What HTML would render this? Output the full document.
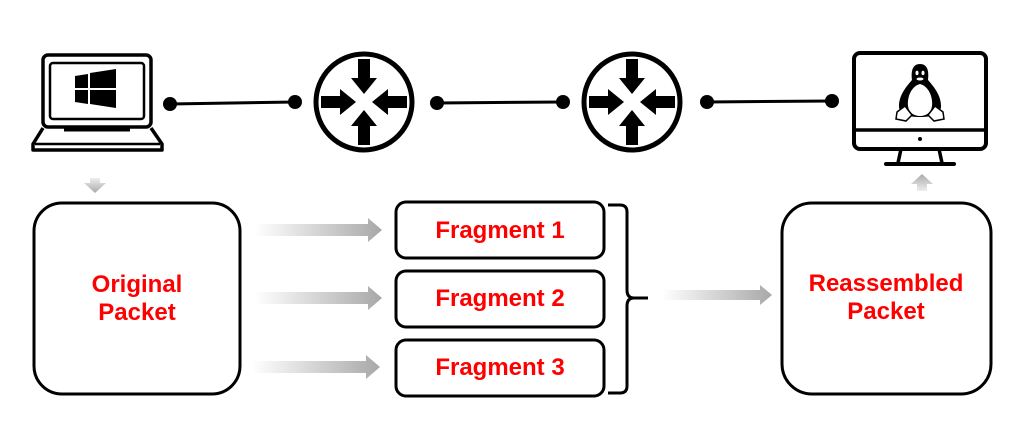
<!DOCTYPE html>
<html><head><meta charset="utf-8"><style>
html,body{margin:0;padding:0;background:#fff;width:1024px;height:430px;overflow:hidden}
text{font-family:"Liberation Sans","DejaVu Sans",sans-serif;font-weight:bold;fill:#f00;font-size:24px}
</style></head><body>
<svg width="1024" height="430" viewBox="0 0 1024 430" xmlns="http://www.w3.org/2000/svg">
<defs>
<linearGradient id="g" x1="0" x2="1" y1="0" y2="0">
<stop offset="0" stop-color="#fff"/><stop offset="1" stop-color="#a8a8a8"/>
</linearGradient>
<linearGradient id="gv" x1="0" x2="0" y1="0" y2="1">
<stop offset="0" stop-color="#eee"/><stop offset="1" stop-color="#aaa"/>
</linearGradient>
<linearGradient id="gu" x1="0" x2="0" y1="1" y2="0">
<stop offset="0" stop-color="#eee"/><stop offset="1" stop-color="#aaa"/>
</linearGradient>
<g id="router">
<circle cx="0" cy="0" r="48" fill="#fff" stroke="#000" stroke-width="5"/>
<g id="arr"><polygon points="-6,-43 6,-43 6,-24 13,-24 0,-8 -13,-24 -6,-24" fill="#000"/></g>
<use href="#arr" transform="rotate(90)"/>
<use href="#arr" transform="rotate(180)"/>
<use href="#arr" transform="rotate(270)"/>
</g>
</defs>

<rect x="43" y="55" width="108" height="72" rx="5" fill="none" stroke="#000" stroke-width="3.5"/>
<rect x="50" y="63" width="94" height="56" rx="3" fill="none" stroke="#000" stroke-width="2.5"/>
<polygon points="75,76 88,74 88,88 75,88" fill="#000"/>
<polygon points="90,73 116,69 116,88 90,88" fill="#000"/>
<polygon points="75,90 88,90 88,104 75,102" fill="#000"/>
<polygon points="90,90 116,90 116,108 90,104" fill="#000"/>
<line x1="64" y1="130" x2="130" y2="130" stroke="#000" stroke-width="3"/>
<path d="M43,128 L33,144 L33,150 L162,150 L162,144 L151,128" fill="none" stroke="#000" stroke-width="3.5" stroke-linejoin="round"/>
<line x1="35" y1="144" x2="160" y2="144" stroke="#000" stroke-width="2.5"/>

<g stroke="#000" stroke-width="3">
<line x1="170" y1="104" x2="295" y2="102"/>
<line x1="437" y1="103" x2="563" y2="102"/>
<line x1="707" y1="102" x2="832" y2="101"/>
</g>
<g fill="#000">
<circle cx="170" cy="104" r="7"/><circle cx="295" cy="102" r="7"/>
<circle cx="437" cy="103" r="7"/><circle cx="563" cy="102" r="7"/>
<circle cx="707" cy="102" r="7"/><circle cx="832" cy="101" r="7"/>
</g>
<use href="#router" x="364" y="102"/>
<use href="#router" x="632" y="102"/>

<rect x="854" y="53" width="132" height="96" rx="6" fill="none" stroke="#000" stroke-width="4"/>
<line x1="856" y1="130" x2="984" y2="130" stroke="#000" stroke-width="3.5"/>
<circle cx="920" cy="139" r="2" fill="#000"/>
<path d="M901,149 L898,163 M939,149 L942,163" stroke="#000" stroke-width="3.5"/>
<line x1="886" y1="164" x2="954" y2="164" stroke="#000" stroke-width="4" stroke-linecap="round"/>
<path d="M920,64 C912,64 911,72 912,80 C905,88 899,96 899,106 C899,114 906,117 920,117 C934,117 941,114 941,106 C941,96 935,88 928,80 C929,72 928,64 920,64 Z" fill="#000"/>
<path d="M920,84 C912,86 907,96 908,106 C909,113 914,116 920,116 C926,116 931,113 932,106 C933,96 928,86 920,84 Z" fill="#fff"/>
<ellipse cx="917" cy="73" rx="1.5" ry="2.2" fill="#fff"/><ellipse cx="923" cy="73" rx="1.5" ry="2.2" fill="#fff"/>
<ellipse cx="920" cy="79" rx="4" ry="2" fill="#fff" stroke="#000" stroke-width="1"/>
<path d="M897,112 L905,106 L912,115 L906,121 L896,119 Z" fill="#fff" stroke="#000" stroke-width="1.5"/>
<path d="M943,112 L935,106 L928,115 L934,121 L944,119 Z" fill="#fff" stroke="#000" stroke-width="1.5"/>

<polygon points="90,178 100,178 100,183 106,183 95,193 84,183 90,183" fill="url(#gv)"/>
<polygon points="917,191 927,191 927,184 933,184 922,174 911,184 917,184" fill="url(#gu)"/>

<rect x="34" y="203" width="206" height="191" rx="28" fill="#fff" stroke="#000" stroke-width="3"/>
<text x="137" y="292" text-anchor="middle">Original</text>
<text x="137" y="320" text-anchor="middle">Packet</text>
<rect x="782" y="203" width="209" height="191" rx="30" fill="#fff" stroke="#000" stroke-width="3"/>
<text x="886" y="291" text-anchor="middle">Reassembled</text>
<text x="886" y="319" text-anchor="middle">Packet</text>

<g fill="url(#g)">
<polygon points="255,224 368,224 368,218 382,230 368,242 368,236 255,236"/>
<polygon points="255,292 368,292 368,286 382,298 368,310 368,304 255,304"/>
<polygon points="252,361 366,361 366,355 380,367 366,379 366,373 252,373"/>
<polygon points="662,290 760,290 760,285 772,295 760,305 760,300 662,300"/>
</g>

<g fill="#fff" stroke="#000" stroke-width="3">
<rect x="396" y="202" width="208" height="56" rx="10"/>
<rect x="396" y="271" width="208" height="56" rx="10"/>
<rect x="396" y="340" width="208" height="56" rx="10"/>
</g>
<text x="500" y="238" text-anchor="middle">Fragment 1</text>
<text x="500" y="306" text-anchor="middle">Fragment 2</text>
<text x="500" y="375" text-anchor="middle">Fragment 3</text>

<path d="M608,205 L620,205 Q627,205 627,212 L627,290 Q627,298 634,298 L648,298 M634,298 Q627,298 627,306 L627,386 Q627,393 620,393 L608,393" fill="none" stroke="#000" stroke-width="3"/>
</svg>
</body></html>
